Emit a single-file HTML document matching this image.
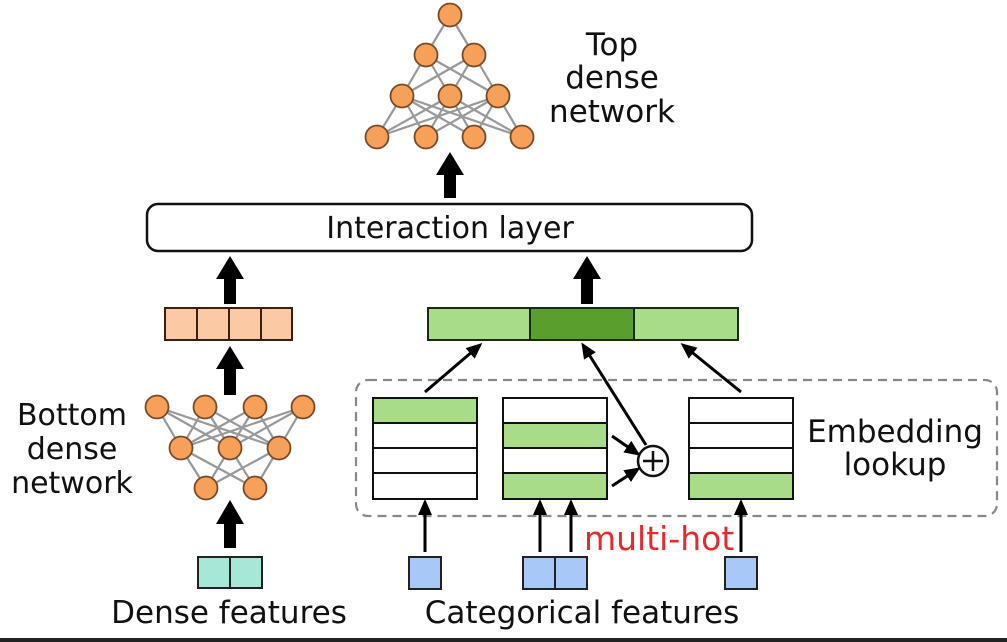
<!DOCTYPE html>
<html><head><meta charset="utf-8"><style>
html,body{margin:0;padding:0;background:#fff;}
svg{display:block;}
text{font-family:"DejaVu Sans","Liberation Sans",sans-serif;fill:#111;}
</style></head><body>
<svg width="1007" height="642" viewBox="0 0 1007 642">
<defs>
<marker id="ah" markerWidth="16" markerHeight="14" refX="13" refY="7" orient="auto" markerUnits="userSpaceOnUse">
<path d="M0,0 L16,7 L0,14 z" fill="#000"/>
</marker>
</defs>
<!-- Top network -->
<g stroke="#999" stroke-width="2.2">
<line x1="450" y1="15" x2="426" y2="55"/><line x1="450" y1="15" x2="474" y2="55"/>
<line x1="426" y1="55" x2="402" y2="96"/><line x1="426" y1="55" x2="450" y2="96"/><line x1="426" y1="55" x2="498" y2="96"/>
<line x1="474" y1="55" x2="402" y2="96"/><line x1="474" y1="55" x2="450" y2="96"/><line x1="474" y1="55" x2="498" y2="96"/>
<line x1="402" y1="96" x2="377" y2="137"/><line x1="402" y1="96" x2="426" y2="137"/><line x1="402" y1="96" x2="474" y2="137"/><line x1="402" y1="96" x2="522" y2="137"/>
<line x1="450" y1="96" x2="377" y2="137"/><line x1="450" y1="96" x2="426" y2="137"/><line x1="450" y1="96" x2="474" y2="137"/><line x1="450" y1="96" x2="522" y2="137"/>
<line x1="498" y1="96" x2="377" y2="137"/><line x1="498" y1="96" x2="426" y2="137"/><line x1="498" y1="96" x2="474" y2="137"/><line x1="498" y1="96" x2="522" y2="137"/>
</g>
<g fill="#f7a05a" stroke="#7a4a2a" stroke-width="1.8">
<circle cx="450" cy="15" r="11.5"/><circle cx="426" cy="55" r="11.5"/><circle cx="474" cy="55" r="11.5"/>
<circle cx="402" cy="96" r="11.5"/><circle cx="450" cy="96" r="11.5"/><circle cx="498" cy="96" r="11.5"/>
<circle cx="377" cy="137" r="11.5"/><circle cx="426" cy="137" r="11.5"/><circle cx="474" cy="137" r="11.5"/><circle cx="522" cy="137" r="11.5"/>
</g>
<!-- Bottom network -->
<g stroke="#999" stroke-width="2.2">
<line x1="157" y1="407" x2="181" y2="448"/><line x1="157" y1="407" x2="230" y2="448"/><line x1="157" y1="407" x2="279" y2="448"/>
<line x1="205" y1="407" x2="181" y2="448"/><line x1="205" y1="407" x2="230" y2="448"/><line x1="205" y1="407" x2="279" y2="448"/>
<line x1="255" y1="407" x2="181" y2="448"/><line x1="255" y1="407" x2="230" y2="448"/><line x1="255" y1="407" x2="279" y2="448"/>
<line x1="303" y1="407" x2="181" y2="448"/><line x1="303" y1="407" x2="230" y2="448"/><line x1="303" y1="407" x2="279" y2="448"/>
<line x1="181" y1="448" x2="206" y2="488"/><line x1="181" y1="448" x2="255" y2="488"/>
<line x1="230" y1="448" x2="206" y2="488"/><line x1="230" y1="448" x2="255" y2="488"/>
<line x1="279" y1="448" x2="206" y2="488"/><line x1="279" y1="448" x2="255" y2="488"/>
</g>
<g fill="#f7a05a" stroke="#7a4a2a" stroke-width="1.8">
<circle cx="157" cy="407" r="11.5"/><circle cx="205" cy="407" r="11.5"/><circle cx="255" cy="407" r="11.5"/><circle cx="303" cy="407" r="11.5"/>
<circle cx="181" cy="448" r="11.5"/><circle cx="230" cy="448" r="11.5"/><circle cx="279" cy="448" r="11.5"/>
<circle cx="206" cy="488" r="11.5"/><circle cx="255" cy="488" r="11.5"/>
</g>
<!-- thick arrows -->
<g fill="#000">
<path d="M224,548 L236,548 L236,524 L244,524 L230,500 L216,524 L224,524 z"/>
<path d="M224,304 L236,304 L236,279 L244,279 L230,256 L216,279 L224,279 z"/>
<path d="M224,395 L236,395 L236,369 L244,369 L230,346 L216,369 L224,369 z"/>
<path d="M581,304 L593,304 L593,279 L601,279 L587,256 L573,279 L581,279 z"/>
<path d="M444,198 L456,198 L456,175 L464,175 L450,152 L436,175 L444,175 z"/>
</g>
<!-- interaction layer -->
<rect x="147" y="204" width="605" height="47" rx="11" fill="#fff" stroke="#111" stroke-width="2.5"/>
<text x="450" y="238" font-size="30" text-anchor="middle">Interaction layer</text>
<!-- orange vector -->
<g stroke="#3a2010" stroke-width="2" fill="#fbc9a3">
<rect x="165" y="308" width="32" height="32"/><rect x="197" y="308" width="32" height="32"/><rect x="229" y="308" width="32" height="32"/><rect x="261" y="308" width="31" height="32"/>
</g>
<!-- green vector -->
<g stroke="#1a2a10" stroke-width="2">
<rect x="428" y="308" width="102" height="32" fill="#a8dc88"/>
<rect x="530" y="308" width="104" height="32" fill="#5a9e2e"/>
<rect x="634" y="308" width="104" height="32" fill="#a8dc88"/>
</g>
<!-- dashed box -->
<rect x="356" y="380" width="641" height="136" rx="12" fill="none" stroke="#888" stroke-width="2.2" stroke-dasharray="9,6"/>
<!-- tables -->
<g stroke="#111" stroke-width="2">
<rect x="373" y="398" width="104" height="25" fill="#a8dc88"/><rect x="373" y="423" width="104" height="25" fill="#fff"/><rect x="373" y="448" width="104" height="25" fill="#fff"/><rect x="373" y="473" width="104" height="26" fill="#fff"/>
<rect x="503" y="398" width="104" height="25" fill="#fff"/><rect x="503" y="423" width="104" height="25" fill="#a8dc88"/><rect x="503" y="448" width="104" height="25" fill="#fff"/><rect x="503" y="473" width="104" height="26" fill="#a8dc88"/>
<rect x="689" y="398" width="104" height="25" fill="#fff"/><rect x="689" y="423" width="104" height="25" fill="#fff"/><rect x="689" y="448" width="104" height="25" fill="#fff"/><rect x="689" y="473" width="104" height="26" fill="#a8dc88"/>
</g>
<!-- plus circle -->
<circle cx="653" cy="461" r="15" fill="#fff" stroke="#111" stroke-width="2.5"/>
<line x1="643" y1="461" x2="663" y2="461" stroke="#111" stroke-width="2.5"/>
<line x1="653" y1="451" x2="653" y2="471" stroke="#111" stroke-width="2.5"/>
<!-- thin arrows -->
<g stroke="#000" stroke-width="3" marker-end="url(#ah)">
<line x1="425" y1="392" x2="480" y2="345"/>
<line x1="646" y1="445" x2="583" y2="345"/>
<line x1="741" y1="392" x2="683" y2="345"/>
<line x1="612" y1="436" x2="638" y2="454"/>
<line x1="612" y1="486" x2="638" y2="469"/>
<line x1="425" y1="552" x2="425" y2="502"/>
<line x1="540" y1="552" x2="540" y2="502"/>
<line x1="571" y1="552" x2="571" y2="502"/>
<line x1="741" y1="552" x2="741" y2="502"/>
</g>
<!-- blue squares -->
<g stroke="#222" stroke-width="2" fill="#a8c8f8">
<rect x="409" y="557" width="32" height="32"/>
<rect x="523" y="557" width="32" height="32"/><rect x="555" y="557" width="32" height="32"/>
<rect x="725" y="557" width="32" height="32"/>
</g>
<!-- dense features -->
<g stroke="#222" stroke-width="2" fill="#a6e8d8">
<rect x="198" y="557" width="32" height="31"/><rect x="230" y="557" width="32" height="31"/>
</g>
<!-- labels -->
<text x="612" y="55" font-size="31" text-anchor="middle">Top</text>
<text x="612" y="88" font-size="31" text-anchor="middle">dense</text>
<text x="612" y="122" font-size="31" text-anchor="middle">network</text>
<text x="72" y="425" font-size="30" text-anchor="middle">Bottom</text>
<text x="72" y="459" font-size="30" text-anchor="middle">dense</text>
<text x="72" y="493" font-size="30" text-anchor="middle">network</text>
<text x="895" y="442" font-size="31" text-anchor="middle">Embedding</text>
<text x="895" y="475" font-size="31" text-anchor="middle">lookup</text>
<text x="584" y="550" font-size="33" style="fill:#e8282c">multi-hot</text>
<text x="229" y="623" font-size="31" text-anchor="middle">Dense features</text>
<text x="582" y="623" font-size="31" text-anchor="middle">Categorical features</text>
<rect x="0" y="638" width="1007" height="4" fill="#222"/>
</svg>
</body></html>
